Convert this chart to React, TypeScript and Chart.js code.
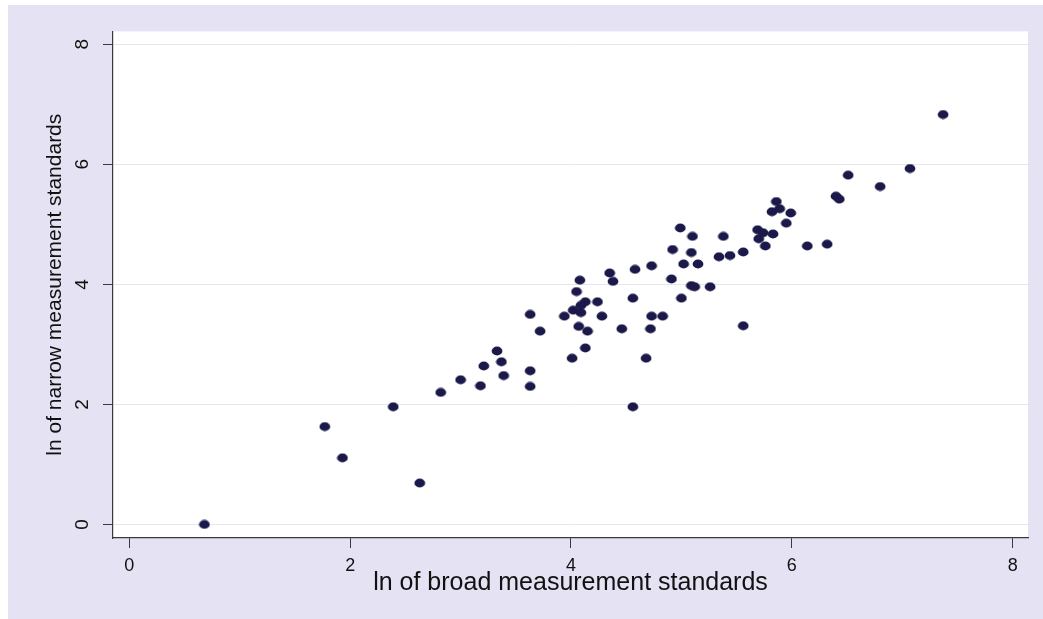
import { useEffect, useRef } from "react";
import { Chart, registerables } from "chart.js";

Chart.register(...registerables);

// ln of broad measurement standards (x) and ln of narrow measurement standards (y), one pair per observation
const broadLn = [
  0.68, 1.77, 1.93, 2.39, 2.63, 2.82, 3.0, 3.18, 3.21, 3.33, 3.37, 3.39, 3.63, 3.63, 3.63, 3.72,
  3.94, 4.01, 4.02, 4.05, 4.08, 4.09, 4.13, 4.09, 4.07, 4.15, 4.13, 4.24, 4.28, 4.35, 4.38, 4.46,
  4.56, 4.58, 4.56, 4.68, 4.72, 4.73, 4.83, 4.73, 4.91, 4.92, 5.0, 5.02, 5.09, 5.09, 5.12, 5.1,
  5.15, 4.99, 5.26, 5.34, 5.38, 5.44, 5.56, 5.56, 5.69, 5.74, 5.7, 5.76, 5.83, 5.82, 5.86, 5.89,
  5.95, 5.99, 6.14, 6.32, 6.4, 6.43, 6.51, 6.8, 7.07, 7.37,
];
const narrowLn = [
  0.0, 1.63, 1.11, 1.96, 0.69, 2.2, 2.41, 2.31, 2.64, 2.89, 2.71, 2.48, 2.56, 2.3, 3.5, 3.22,
  3.47, 2.77, 3.57, 3.88, 4.07, 3.53, 3.71, 3.65, 3.3, 3.22, 2.94, 3.71, 3.47, 4.19, 4.05, 3.26,
  3.77, 4.25, 1.96, 2.77, 3.26, 3.47, 3.47, 4.31, 4.09, 4.58, 3.77, 4.34, 4.53, 3.98, 3.96, 4.8,
  4.34, 4.94, 3.96, 4.46, 4.8, 4.48, 4.54, 3.31, 4.91, 4.86, 4.76, 4.64, 4.84, 5.21, 5.38, 5.26,
  5.02, 5.19, 4.64, 4.67, 5.47, 5.42, 5.82, 5.63, 5.93, 6.83,
];

const xTickValues = [0, 2, 4, 6, 8];
const yTickValues = [0, 2, 4, 6, 8];
const xTitle = "ln of broad measurement standards";
const yTitle = "ln of narrow measurement standards";

const FONT = "'Liberation Sans', Arial, sans-serif";
const TEXT = "#111111";
const AXIS = "#3a3a3a";
const DOT = "#1b1949";

// slightly oval filled marker
function makeDot(): HTMLCanvasElement {
  const c = document.createElement("canvas");
  c.width = 12;
  c.height = 10;
  const g = c.getContext("2d")!;
  g.fillStyle = DOT;
  g.beginPath();
  g.ellipse(6, 5, 5.4, 4.4, 0, 0, Math.PI * 2);
  g.fill();
  return c;
}

// white plot region on the lavender graph region
const plotBackground = {
  id: "plotBackground",
  beforeDraw(chart: any) {
    const { ctx, chartArea: a } = chart;
    ctx.save();
    ctx.fillStyle = "#ffffff";
    ctx.fillRect(a.left, a.top, a.right - a.left, a.bottom - a.top);
    ctx.restore();
  },
};

export default function App() {
  const canvasRef = useRef<HTMLCanvasElement | null>(null);

  useEffect(() => {
    if (!canvasRef.current) return;
    const points = broadLn.map((x, i) => ({ x, y: narrowLn[i] }));
    const chart = new Chart(canvasRef.current, {
      type: "scatter",
      data: {
        datasets: [
          {
            data: points,
            pointStyle: makeDot(),
            pointRadius: 5,
            pointHoverRadius: 5,
          },
        ],
      },
      options: {
        animation: false,
        responsive: true,
        maintainAspectRatio: false,
        layout: { padding: { top: 22, right: 15, left: 0, bottom: 0 } },
        plugins: { legend: { display: false }, tooltip: { enabled: false } },
        scales: {
          x: {
            type: "linear",
            min: -0.148,
            max: 8.139,
            afterBuildTicks: (scale: any) => {
              scale.ticks = xTickValues.map((v) => ({ value: v }));
            },
            afterFit: (scale: any) => {
              scale.height = 81;
            },
            grid: {
              drawOnChartArea: false,
              drawTicks: true,
              tickLength: 10,
              tickColor: AXIS,
              tickWidth: 1,
            },
            border: { display: true, color: AXIS, width: 1.2 },
            ticks: {
              padding: 7,
              color: TEXT,
              font: { family: FONT, size: 18 },
              maxRotation: 0,
              minRotation: 0,
            },
            title: {
              display: true,
              text: xTitle,
              color: TEXT,
              font: { family: FONT, size: 25 },
              padding: { top: 0, bottom: 21 },
            },
          },
          y: {
            type: "linear",
            min: -0.226,
            max: 8.215,
            afterBuildTicks: (scale: any) => {
              scale.ticks = yTickValues.map((v) => ({ value: v }));
            },
            afterFit: (scale: any) => {
              scale.width = 105;
            },
            grid: {
              drawOnChartArea: true,
              color: "#e6e6ee",
              lineWidth: 1,
              drawTicks: true,
              tickLength: 10,
              tickColor: AXIS,
              tickWidth: 1,
            },
            border: { display: true, color: AXIS, width: 1.2 },
            ticks: {
              padding: 15,
              crossAlign: "center",
              minRotation: 90,
              maxRotation: 90,
              color: TEXT,
              font: { family: FONT, size: 19 },
            },
            title: {
              display: true,
              text: yTitle,
              color: TEXT,
              font: { family: FONT, size: 21 },
              padding: { top: 35, bottom: 0 },
            },
          },
        },
      },
      plugins: [plotBackground],
    });
    return () => chart.destroy();
  }, []);

  return (
    <div
      style={{
        position: "absolute",
        left: 8,
        top: 5,
        width: 1035,
        height: 614,
        background: "#e4e2f3",
      }}
    >
      <canvas ref={canvasRef} />
    </div>
  );
}
